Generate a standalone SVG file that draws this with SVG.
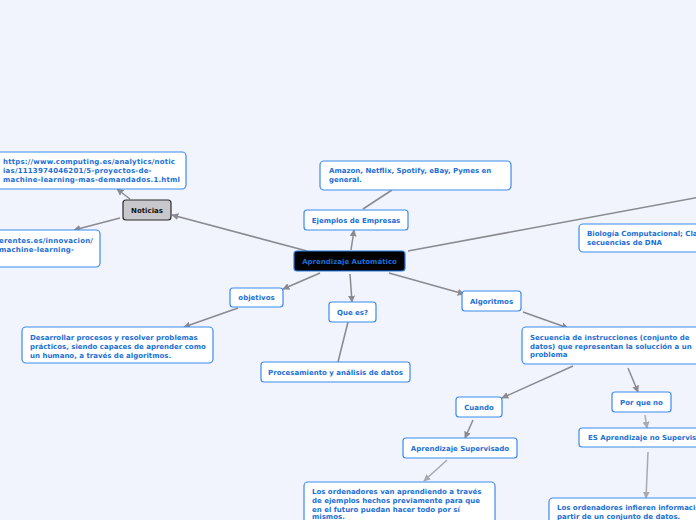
<svg xmlns="http://www.w3.org/2000/svg" width="696" height="520" viewBox="0 0 696 520">
<style>
.b{fill:#ffffff;stroke:#3b8bef;stroke-width:1.2}
.t{font-family:"DejaVu Sans",Verdana,sans-serif;font-weight:bold;font-size:7px;fill:#1c6fd6}
.u{letter-spacing:0.2px}
.c{text-anchor:middle}
.l{fill:none;stroke:#8a8a90;stroke-width:1.5}
.l2{fill:none;stroke:#a8a8ae;stroke-width:1.5}
</style>
<defs>
<marker id="a" viewBox="0 0 10 10" refX="9" refY="5" markerWidth="7" markerHeight="7" markerUnits="userSpaceOnUse" orient="auto">
<path d="M0,0 L10,5 L0,10 z" fill="#8a8a90"/>
</marker>
<marker id="a2" viewBox="0 0 10 10" refX="9" refY="5" markerWidth="7" markerHeight="7" markerUnits="userSpaceOnUse" orient="auto">
<path d="M0,0 L10,5 L0,10 z" fill="#a8a8ae"/>
</marker>
</defs>
<rect width="696" height="520" fill="#f1f4fd"/>
<g id="connectors">
<line class="l" x1="307" y1="251" x2="172" y2="215" marker-end="url(#a)"/>
<line class="l" x1="130" y1="199" x2="117" y2="189" marker-end="url(#a)"/>
<line class="l" x1="120" y1="218" x2="74" y2="230" marker-end="url(#a)"/>
<line class="l" x1="351" y1="250" x2="354" y2="230" marker-end="url(#a)"/>
<line class="l" x1="363" y1="209" x2="392" y2="190"/>
<line class="l" x1="408" y1="251" x2="700" y2="197"/>
<line class="l" x1="320" y1="273" x2="283" y2="289" marker-end="url(#a)"/>
<line class="l" x1="350" y1="274" x2="352" y2="302" marker-end="url(#a)"/>
<line class="l" x1="389" y1="273" x2="464" y2="294" marker-end="url(#a)"/>
<line class="l" x1="238" y1="308" x2="184" y2="327" marker-end="url(#a)"/>
<line class="l" x1="348" y1="322" x2="338" y2="362"/>
<line class="l" x1="523" y1="312" x2="568" y2="328" marker-end="url(#a)"/>
<line class="l" x1="573" y1="366" x2="502" y2="398" marker-end="url(#a)"/>
<line class="l" x1="628" y1="368" x2="638" y2="392" marker-end="url(#a)"/>
<line class="l" x1="473" y1="420" x2="465" y2="438" marker-end="url(#a)"/>
<line class="l2" x1="645" y1="415" x2="647" y2="428" marker-end="url(#a2)"/>
<line class="l2" x1="447" y1="460" x2="424" y2="481" marker-end="url(#a2)"/>
<line class="l2" x1="648" y1="452" x2="646" y2="498" marker-end="url(#a2)"/>
</g>
<g id="url1">
<rect class="b" x="-6" y="152" width="192" height="37" rx="4"/>
<text class="t u" x="3" y="164">https://www.computing.es/analytics/notic</text>
<text class="t u" x="3" y="173">ias/1113974046201/5-proyectos-de-</text>
<text class="t u" x="3" y="182">machine-learning-mas-demandados.1.html</text>
</g>
<g id="noticias">
<rect x="123" y="200" width="48" height="20" rx="3" fill="#c8c8cc" stroke="#2b2b2b" stroke-width="1.2"/>
<text class="t c" x="147" y="213" style="fill:#111">Noticias</text>
</g>
<g id="url2">
<rect class="b" x="-6" y="230" width="106" height="37" rx="4"/>
<text class="t u" x="-1" y="243">erentes.es/innovacion/</text>
<text class="t u" x="-1" y="252">machine-learning-</text>
</g>
<g id="amazon">
<rect class="b" x="320" y="161" width="191" height="29" rx="4"/>
<text class="t" x="329" y="173">Amazon, Netflix, Spotify, eBay, Pymes en</text>
<text class="t" x="329" y="182">general.</text>
</g>
<g id="ejemplos">
<rect class="b" x="304" y="210" width="104" height="20" rx="3"/>
<text class="t c" x="356" y="223">Ejemplos de Empresas</text>
</g>
<g id="central">
<rect x="294" y="251" width="111" height="20" rx="3" fill="#000" stroke="#2a7de1" stroke-width="1.2"/>
<text class="t c" x="349.5" y="264">Aprendizaje Automático</text>
</g>
<g id="biologia">
<rect class="b" x="579" y="224" width="125" height="28" rx="4"/>
<text class="t" x="587" y="236">Biología Computacional; Cla</text>
<text class="t" x="587" y="245">secuencias de DNA</text>
</g>
<g id="objetivos">
<rect class="b" x="230" y="288" width="53" height="19" rx="3"/>
<text class="t c" x="256.5" y="300">objetivos</text>
</g>
<g id="quees">
<rect class="b" x="329" y="302" width="47" height="20" rx="3"/>
<text class="t c" x="352.5" y="315">Que es?</text>
</g>
<g id="algoritmos">
<rect class="b" x="462" y="291" width="59" height="20" rx="3"/>
<text class="t c" x="491.5" y="304">Algoritmos</text>
</g>
<g id="desarrollar">
<rect class="b" x="22" y="327" width="191" height="36" rx="4"/>
<text class="t" x="30" y="340">Desarrollar procesos y resolver problemas</text>
<text class="t" x="30" y="349">prácticos, siendo capaces de aprender como</text>
<text class="t" x="30" y="358">un humano, a través de algoritmos.</text>
</g>
<g id="procesamiento">
<rect class="b" x="261" y="362" width="149" height="20" rx="3"/>
<text class="t c" x="335.5" y="375">Procesamiento y análisis de datos</text>
</g>
<g id="secuencia">
<rect class="b" x="522" y="327" width="182" height="37" rx="4"/>
<text class="t" x="530" y="340">Secuencia de instrucciones (conjunto de</text>
<text class="t" x="530" y="349">datos) que representan la solucción a un</text>
<text class="t" x="530" y="357">problema</text>
</g>
<g id="cuando">
<rect class="b" x="456" y="397" width="46" height="20" rx="3"/>
<text class="t c" x="479" y="410">Cuando</text>
</g>
<g id="porqueno">
<rect class="b" x="612" y="392" width="59" height="20" rx="3"/>
<text class="t c" x="641.5" y="405">Por que no</text>
</g>
<g id="supervisado">
<rect class="b" x="403" y="438" width="114" height="20" rx="3"/>
<text class="t c" x="460" y="451">Aprendizaje Supervisado</text>
</g>
<g id="nosupervisado">
<rect class="b" x="579" y="428" width="125" height="19" rx="3"/>
<text class="t" x="588" y="440">ES Aprendizaje no Supervisado</text>
</g>
<g id="ordenadores1">
<rect class="b" x="304" y="482" width="191" height="46" rx="4"/>
<text class="t" x="312" y="494">Los ordenadores van aprendiendo a través</text>
<text class="t" x="312" y="503">de ejemplos hechos previamente para que</text>
<text class="t" x="312" y="512">en el futuro puedan hacer todo por sí</text>
<text class="t" x="312" y="519">mismos.</text>
</g>
<g id="ordenadores2">
<rect class="b" x="549" y="498" width="155" height="30" rx="4"/>
<text class="t" x="557" y="510">Los ordenadores infieren información a</text>
<text class="t" x="557" y="519">partir de un conjunto de datos.</text>
</g>
</svg>
